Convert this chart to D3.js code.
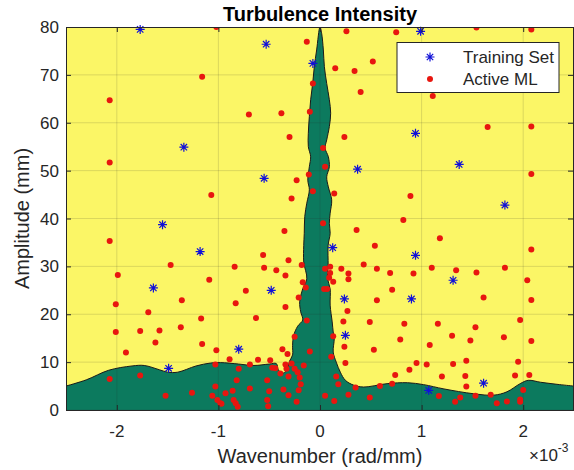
<!DOCTYPE html>
<meta charset="utf-8">
<style>
    body { margin: 0; background: #fff; }
    text { font-family: "Liberation Sans", Arial, sans-serif; fill: #262626; }
</style>
<script src="https://d3js.org/d3.v7.min.js"></script>
<div id="chart"></div>
<script>

    // wavenumber values are stored in units of 1e-3 rad/mm
    var xTicks = [-2, -1, 0, 1, 2];
    var yTicks = [0, 10, 20, 30, 40, 50, 60, 70, 80];

    // Training set (blue stars)
    var trainX = [-1.77, -0.53, -0.07, 0.99, -1.34, -0.55, 0.37, 0.94, 1.37, 1.82, -1.55, -1.18,
                  -1.64, -0.48, -0.80, -1.49, 0.125, 0.94, 0.24, 0.90, 0.25, 1.07, 1.31, 1.61];
    var trainY = [79.5, 76.4, 72.4, 79.1, 54.9, 48.4, 50.3, 57.8, 51.3, 42.8, 38.7, 33.1,
                  25.5, 25.0, 12.7, 8.7, 33.9, 32.3, 23.2, 23.2, 15.6, 4.1, 27.1, 5.6];

    // Active ML samples (red dots)
    var activeX = [-2.07, -2.07, -1.02, -1.16, -0.70, -0.38, -0.30, -1.07, -0.23, -0.28, -0.35, -2.07,
                   -0.13, -0.07, -0.10, -0.11, -0.07, 0.26, 0.75, 1.54, 2.08, 0.15, 0.34, 0.52,
                   0.40, 1.11, 0.24, 1.65, 2.08, 0.03, 0.05, 2.08, 0.14, 0.89, 0.82, 0.03,
                   0.36, 1.18, -1.99, -2.01, -2.01, -1.91, -1.77, -1.69, -1.58, -1.62, -1.47, -1.36,
                   -1.37, -1.09, -1.17, -1.16, -1.02, -0.84, -0.73, -0.83, -0.63, -0.56, -0.55, -0.43,
                   -0.34, -0.31, -0.34, -0.21, -0.89, -0.61, -0.25, -0.37, -0.32, -0.18, -0.17, -0.14,
                   -0.13, -0.10, -0.49, -2.07, -1.77, -1.52, -1.26, -1.03, -1.03, -0.80, -0.82, -0.69,
                   -0.69, -0.52, -0.50, -0.52, -0.44, -0.36, -0.31, -1.06, -1.01, -0.98, -0.93, -0.86,
                   -0.83, -0.81, -0.85, -0.51, -0.31, -0.23, -0.21, -0.19, -0.20, -0.22, -0.25, -0.16,
                   -0.28, -0.33, -0.34, -0.39, -0.47, -0.97, 0.54, 0.43, 0.56, 0.69, 0.92, 1.10,
                   0.05, 0.10, 0.21, 0.10, 0.28, 0.09, 0.13, 0.28, 0.04, 0.07, 0.71, 0.56,
                   0.27, 0.23, 0.49, 0.83, 1.16, 0.13, 0.24, 0.53, 0.79, 1.08, 0.11, 0.25,
                   0.95, 1.05, 0.88, 0.74, 1.20, 0.16, 0.18, 0.35, 0.59, 0.71, 0.05, 0.14,
                   0.28, 0.49, 1.17, 2.08, 1.34, 1.54, 1.82, 2.04, 1.61, 2.08, 1.97, 1.53,
                   1.30, 1.48, 1.81, 2.08, 1.31, 1.44, 1.95, 1.43, 1.92, 2.06, 1.44, 1.33,
                   1.38, 1.53, 1.68, 1.74, 1.84, 1.97, 1.97, 2.00];
    var activeY = [64.7, 51.7, 80.0, 69.6, 61.7, 62.0, 57.0, 44.9, 48.0, 44.2, 37.4, 35.3,
                   76.9, 68.2, 62.3, 49.2, 45.7, 79.1, 78.9, 79.9, 79.5, 71.4, 70.8, 72.8,
                   66.4, 65.6, 57.0, 59.1, 59.2, 54.7, 50.8, 49.3, 45.2, 44.7, 39.7, 39.0,
                   37.6, 35.9, 28.2, 22.1, 16.3, 12.0, 16.5, 20.4, 16.6, 14.1, 30.3, 22.9,
                   17.3, 27.2, 19.1, 13.8, 12.5, 29.9, 24.9, 22.3, 19.2, 32.4, 29.7, 29.2,
                   28.1, 31.3, 21.5, 23.5, 10.6, 10.5, 15.3, 12.7, 11.7, 30.3, 26.7, 25.6,
                   18.7, 12.2, 10.4, 6.5, 7.2, 3.0, 3.6, 9.5, 4.9, 8.6, 6.2, 9.5,
                   4.5, 6.2, 3.9, 2.1, 8.7, 4.3, 7.0, 3.0, 2.1, 1.4, 3.5, 4.0,
                   1.4, 0.7, 2.1, 0.8, 3.1, 1.7, 4.1, 5.4, 6.8, 7.9, 8.6, 9.3,
                   9.7, 8.6, 9.5, 7.6, 8.8, 1.3, 34.3, 30.4, 29.5, 28.6, 28.5, 29.7,
                   29.5, 29.9, 29.5, 28.6, 28.5, 27.6, 26.8, 27.3, 25.3, 25.3, 25.1, 22.9,
                   20.7, 18.5, 18.4, 18.0, 18.0, 15.4, 13.2, 12.6, 14.7, 13.6, 11.1, 9.8,
                   9.8, 9.5, 8.4, 7.3, 7.0, 7.0, 5.4, 4.7, 5.0, 5.5, 3.0, 1.9,
                   3.2, 2.6, 2.9, 33.5, 29.2, 28.7, 29.7, 27.1, 23.5, 23.0, 18.8, 17.3,
                   15.5, 14.5, 15.2, 14.4, 9.6, 10.3, 10.1, 7.1, 7.2, 7.3, 4.9, 1.7,
                   2.6, 3.0, 3.2, 1.4, 1.8, 2.2, 1.7, 4.2];

    // Boundary of the green (low intensity) region, traced left to right
    var boundaryX = [-2.5, -2.3, -2.08, -1.85, -1.73, -1.58, -1.5, -1.4, -1.22, -1.08, -0.98, -0.8,
                     -0.65, -0.5, -0.43, -0.41, -0.37, -0.33, -0.31, -0.3, -0.27, -0.27, -0.26, -0.22,
                     -0.17, -0.19, -0.2, -0.17, -0.13, -0.16, -0.16, -0.155, -0.15, -0.13, -0.105, -0.12,
                     -0.105, -0.092, -0.115, -0.115, -0.105, -0.092, -0.072, -0.056, -0.033, 0,
                     0.016, 0.033, 0.043, 0.066, 0.092, 0.105, 0.092, 0.066, 0.05, 0.082, 0.092, 0.066,
                     0.082, 0.115, 0.1, 0.092, 0.1, 0.08, 0.08, 0.075, 0.1, 0.1, 0.12, 0.13,
                     0.14, 0.13, 0.16, 0.2, 0.25, 0.33, 0.43, 0.66, 0.86, 1.02, 1.22, 1.51,
                     1.71, 1.84, 1.97, 2.05, 2.17, 2.36, 2.5];
    var boundaryY = [5.0, 6.3, 8.3, 9.2, 9.3, 8.4, 7.9, 7.9, 9.2, 9.8, 9.9, 9.6,
                     9.3, 9.6, 9.7, 8.4, 7.7, 8.2, 9.4, 10.2, 11.5, 13.5, 15.5, 17.5,
                     18.8, 20.5, 22.6, 25.3, 27.4, 30.9, 34.4, 36.9, 40.4, 43.2, 46.0, 48.0,
                     50.8, 52.9, 55.0, 57.8, 61.3, 64.8, 68.2, 71.7, 75.2, 80,
                     78.7, 75.2, 71.7, 68.2, 64.8, 62.0, 59.2, 56.4, 54.7, 52.9, 50.8, 48.7,
                     46.6, 43.9, 41.1, 39.0, 36.9, 34.4, 30.2, 27.4, 25.3, 21.9, 18.4, 16.3,
                     14.9, 12.1, 10.0, 7.9, 6.2, 5.2, 4.8, 5.5, 5.7, 5.3, 4.4, 3.4,
                     3.1, 3.8, 5.5, 6.2, 5.8, 5.3, 5.0];

    var width = 574, height = 470;
    var plot = {left: 66, top: 27, right: 574, bottom: 410};

    var svg = d3.select("#chart")
        .append("svg")
        .attr("width", width)
        .attr("height", height);

    var x = d3.scaleLinear().domain([-2.5, 2.5]).range([plot.left, plot.right]);
    var y = d3.scaleLinear().domain([0, 80]).range([plot.bottom, plot.top]);

    svg.append("clipPath").attr("id", "clip")
        .append("rect")
        .attr("x", plot.left).attr("y", plot.top)
        .attr("width", plot.right - plot.left).attr("height", plot.bottom - plot.top);

    var g = svg.append("g").attr("clip-path", "url(#clip)");

    // yellow background
    g.append("rect")
        .attr("x", plot.left).attr("y", plot.top)
        .attr("width", plot.right - plot.left).attr("height", plot.bottom - plot.top)
        .style("fill", "#fbf666");

    // green region
    var pts = boundaryX.map(function (d, i) { return [x(d), y(boundaryY[i])]; });
    var line = d3.line().curve(d3.curveCatmullRom.alpha(0.5));
    var edge = line(pts);
    g.append("path")
        .attr("d", edge + "L" + x(2.5) + "," + y(0) + "L" + x(-2.5) + "," + y(0) + "Z")
        .style("fill", "#0c7a5e");
    g.append("path")
        .attr("d", edge)
        .style("fill", "none")
        .style("stroke", "#1a1a1a")
        .style("stroke-width", 1);

    // grid lines
    g.selectAll(".gx").data(xTicks).enter().append("line")
        .attr("x1", function (d) { return x(d); }).attr("x2", function (d) { return x(d); })
        .attr("y1", plot.top).attr("y2", plot.bottom)
        .style("stroke", "#262626").style("stroke-opacity", 0.15);
    g.selectAll(".gy").data(yTicks).enter().append("line")
        .attr("y1", function (d) { return y(d); }).attr("y2", function (d) { return y(d); })
        .attr("x1", plot.left).attr("x2", plot.right)
        .style("stroke", "#262626").style("stroke-opacity", 0.15);

    // red dots
    g.selectAll(".dot").data(activeX).enter().append("circle")
        .attr("cx", function (d) { return x(d); })
        .attr("cy", function (d, i) { return y(activeY[i]); })
        .attr("r", 3)
        .style("fill", "#e8160f");

    // blue asterisks
    var star = "M-4.5,0L4.5,0M0,-4.5L0,4.5M-3.2,-3.2L3.2,3.2M-3.2,3.2L3.2,-3.2";
    svg.selectAll(".star").data(trainX).enter().append("path")
        .attr("transform", function (d, i) { return "translate(" + x(d) + "," + y(trainY[i]) + ")"; })
        .attr("d", star)
        .style("fill", "none")
        .style("stroke", "#1010d8")
        .style("stroke-width", 1.2);

    // axes box and inward ticks
    var axisColor = "#262626";
    svg.append("rect")
        .attr("x", plot.left + 0.5).attr("y", plot.top + 0.5)
        .attr("width", plot.right - plot.left - 1).attr("height", plot.bottom - plot.top)
        .style("fill", "none").style("stroke", axisColor).style("stroke-width", 1);

    svg.append("g")
        .attr("transform", "translate(0," + plot.bottom + ")")
        .call(d3.axisTop(x).tickValues(xTicks).tickSize(5).tickFormat(""))
        .call(function (a) { a.select(".domain").remove(); a.selectAll("line").style("stroke", axisColor); });
    svg.append("g")
        .attr("transform", "translate(0," + plot.top + ")")
        .call(d3.axisBottom(x).tickValues(xTicks).tickSize(5).tickFormat(""))
        .call(function (a) { a.select(".domain").remove(); a.selectAll("line").style("stroke", axisColor); });
    svg.append("g")
        .attr("transform", "translate(" + plot.left + ",0)")
        .call(d3.axisRight(y).tickValues(yTicks).tickSize(5).tickFormat(""))
        .call(function (a) { a.select(".domain").remove(); a.selectAll("line").style("stroke", axisColor); });
    svg.append("g")
        .attr("transform", "translate(" + (plot.right - 1) + ",0)")
        .call(d3.axisLeft(y).tickValues(yTicks).tickSize(5).tickFormat(""))
        .call(function (a) { a.select(".domain").remove(); a.selectAll("line").style("stroke", axisColor); });

    // tick labels
    svg.selectAll(".xl").data(xTicks).enter().append("text")
        .attr("x", function (d) { return x(d); })
        .attr("y", 437)
        .style("text-anchor", "middle")
        .style("font-size", "17px")
        .text(function (d) { return d; });
    svg.selectAll(".yl").data(yTicks).enter().append("text")
        .attr("x", plot.left - 7)
        .attr("y", function (d) { return y(d) + 6; })
        .style("text-anchor", "end")
        .style("font-size", "17px")
        .text(function (d) { return d; });

    // exponent label
    var ex = svg.append("text")
        .attr("x", 529).attr("y", 461)
        .style("font-size", "17px");
    ex.append("tspan").text("\u00d710");
    ex.append("tspan").attr("dy", -9).style("font-size", "12px").text("-3");

    // axis labels and title
    svg.append("text")
        .attr("x", 320).attr("y", 463)
        .style("text-anchor", "middle")
        .style("font-size", "20px")
        .text("Wavenumber (rad/mm)");
    svg.append("text")
        .attr("transform", "translate(29," + ((plot.top + plot.bottom) / 2) + ") rotate(-90)")
        .style("text-anchor", "middle")
        .style("font-size", "20px")
        .text("Amplitude (mm)");
    svg.append("text")
        .attr("x", 320).attr("y", 21)
        .style("text-anchor", "middle")
        .style("font-size", "20px")
        .style("font-weight", "bold")
        .style("fill", "#000")
        .text("Turbulence Intensity");

    // legend
    var lg = svg.append("g");
    lg.append("rect")
        .attr("x", 397).attr("y", 42.5)
        .attr("width", 162).attr("height", 50)
        .style("fill", "#fff")
        .style("stroke", axisColor).style("stroke-width", 1);
    lg.append("path")
        .attr("transform", "translate(430,57)")
        .attr("d", star)
        .style("fill", "none").style("stroke", "#1010d8").style("stroke-width", 1.2);
    lg.append("circle")
        .attr("cx", 430).attr("cy", 79).attr("r", 3)
        .style("fill", "#e8160f");
    lg.append("text").attr("x", 463).attr("y", 63).style("font-size", "17px").text("Training Set");
    lg.append("text").attr("x", 463).attr("y", 85).style("font-size", "17px").text("Active ML");

</script>
